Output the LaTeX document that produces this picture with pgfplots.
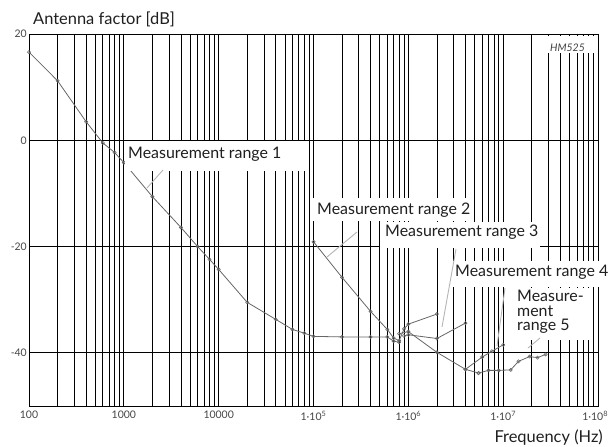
\documentclass[border=0pt]{standalone}
\usepackage{pgfplots}
\pgfplotsset{compat=1.18}
\usetikzlibrary{calc}
\usepackage{fontspec}
\setmainfont{Lato}
\definecolor{crv}{HTML}{666666}
\definecolor{lead}{HTML}{B5B5B5}
\definecolor{tl}{HTML}{454545}

\pgfplotstableread{
f v
100 16.6
200 11.2
400 3.5
600 -0.5
800 -2.3
1000 -4.2
2000 -10.6
4000 -16.4
6000 -20.0
8000 -22.4
10000 -24.3
20000 -30.5
40000 -33.7
60000 -35.6
80000 -36.3
100000 -36.9
200000 -37.0
400000 -37.0
600000 -37.0
700000 -37.8
800000 -38.0
}\rangeA

\pgfplotstableread{
f v
100000 -19.1
200000 -25.8
400000 -32.2
600000 -35.6
700000 -37.2
800000 -37.7
900000 -35.5
1000000 -34.6
2000000 -32.7
}\rangeB

\pgfplotstableread{
f v
800000 -36.4
1000000 -36.0
2000000 -39.9
4000000 -43.1
5500000 -43.8
}\rangeC

\pgfplotstableread{
f v
900000 -36.8
1000000 -36.6
2000000 -37.3
4000000 -34.4
}\rangeD

\pgfplotstableread{
f v
4000000 -43.1
6000000 -40.8
7600000 -39.7
10000000 -38.5
}\rangeE

\pgfplotstableread{
f v
5500000 -43.8
7000000 -43.3
9000000 -43.3
12000000 -43.2
14500000 -41.6
19000000 -40.7
23000000 -40.9
28000000 -40.3
}\rangeF

\begin{document}
\begin{tikzpicture}
\begin{axis}[
  name=ax,
  scale only axis, width=569bp, height=372bp,
  xmode=log, log basis x=10,
  xmin=100, xmax=1e8, ymin=-50, ymax=20,
  xtick={100,1000,10000,100000,1000000,10000000,100000000},
  xticklabels={100,1000,10000,{1·10\textsuperscript{5}},{1·10\textsuperscript{6}},{1·10\textsuperscript{7}},{\makebox[20bp][r]{1·10\textsuperscript{8}}}},
  minor xtick={200,300,400,500,600,700,800,900,
    2000,3000,4000,5000,6000,7000,8000,9000,
    20000,30000,40000,50000,60000,70000,80000,90000,
    200000,300000,400000,500000,600000,700000,800000,900000,
    2000000,3000000,4000000,5000000,6000000,7000000,8000000,9000000,
    20000000,30000000,40000000,50000000,60000000,70000000,80000000,90000000},
  ytick={-40,-20,0,20},
  yticklabels={-40,-20,0,20},
  xmajorgrids, xminorgrids, ymajorgrids,
  major grid style={black, line width=0.9bp},
  minor grid style={black, line width=0.75bp},
  tick style={draw=none},
  axis line style={black, line width=0.8bp},
  /pgf/number format/assume math mode=true,
  tick label style={font=\fontsize{10.5}{12}\selectfont, text=tl},
  xticklabel style={anchor=north, inner sep=0pt, yshift=-5bp},
  yticklabel style={anchor=east, inner sep=0pt, xshift=-2bp},
  clip=false,
]
\pgfplotsset{crvst/.style={color=crv, line width=0.8bp, mark=o, mark size=1.6bp, mark options={solid, draw=crv, fill=white, line width=0.6bp}}}
\addplot[crvst] table[x=f, y=v] {\rangeA};
\addplot[crvst] table[x=f, y=v] {\rangeB};
\addplot[crvst] table[x=f, y=v] {\rangeC};
\addplot[crvst] table[x=f, y=v] {\rangeD};
\addplot[crvst] table[x=f, y=v] {\rangeE};
\addplot[crvst] table[x=f, y=v] {\rangeF};
\end{axis}
\begin{scope}[shift={($(ax.north west)+(-29bp,34bp)$)}, x=1bp, y=-1bp]
  % white label boxes
  \fill[white] (125,141) rectangle (306,171);
  \fill[white] (312,198) rectangle (472,221);
  \fill[white] (380,222) rectangle (540,248);
  \fill[white] (452,261) rectangle (609,287);
  \fill[white] (510,288) rectangle (590,340);
  \fill[white] (540,36) rectangle (597,53);
  % leader lines
  \draw[lead, line width=0.9bp] (147,188) -- (163,170);
  \draw[lead, line width=0.9bp] (327,257) -- (357,232);
  \draw[lead, line width=0.9bp] (442,327) -- (456,249);
  \draw[lead, line width=0.9bp] (497,346) -- (505,288);
  \draw[lead, line width=0.9bp] (528,348) -- (540,338);
  % labels
  \begin{scope}[every node/.style={inner sep=0pt, font=\fontsize{16}{14.5}\selectfont, text=black!88}]
  \node[anchor=base west] at (128,159) {Measurement range 1};
  \node[anchor=base west] at (317,215) {Measurement range 2};
  \node[anchor=base west] at (385,237) {Measurement range 3};
  \node[anchor=base west] at (455,277) {Measurement range 4};
  \node[anchor=north west, align=left] at (517,290) {Measure-\\ment\\range 5};
  \node[anchor=base west, font=\fontsize{16.5}{18}\selectfont] at (33,25) {Antenna factor [dB]};
  \node[anchor=base east, font=\fontsize{16.5}{18}\selectfont] at (603,443) {Frequency (Hz)};
  \node[anchor=base west, font=\fontsize{10.5}{12}\itshape, text=black!75] at (550,52) {HM525};
  \end{scope}
  \pgfresetboundingbox
  \path (0,0) rectangle (609,447);
\end{scope}
\end{tikzpicture}
\end{document}
